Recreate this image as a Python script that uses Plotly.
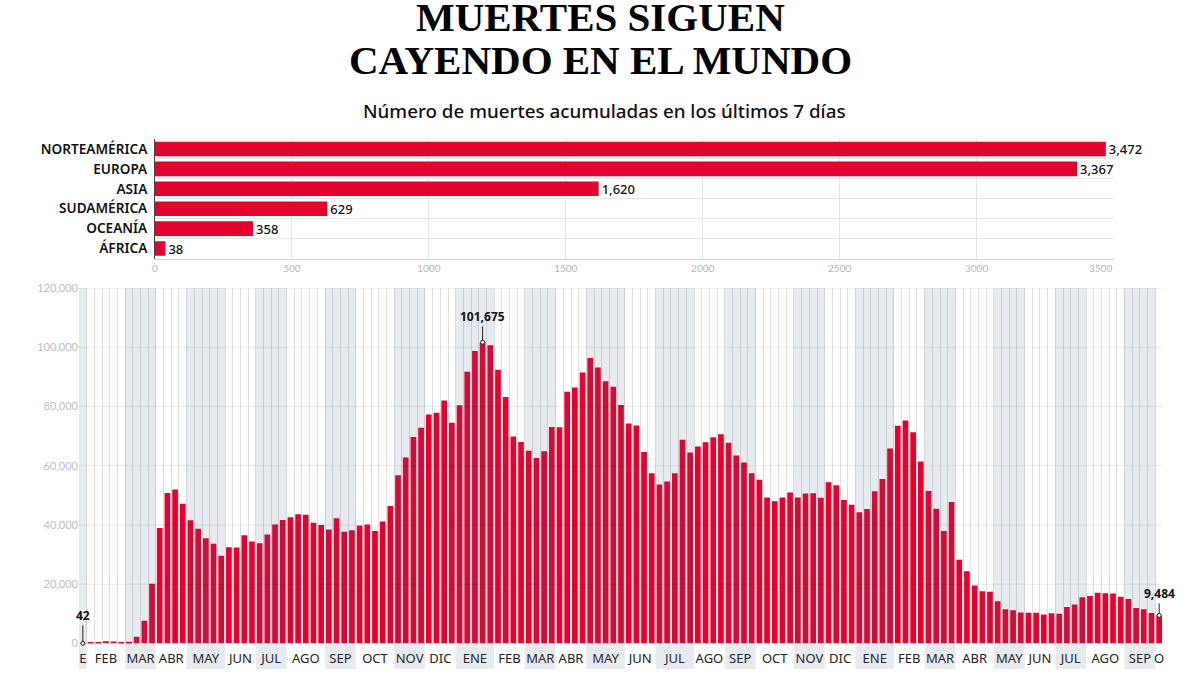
import plotly.graph_objects as go

TITLE_1 = "MUERTES SIGUEN"
TITLE_2 = "CAYENDO EN EL MUNDO"
SUBTITLE = "Número de muertes acumuladas en los últimos 7 días"

REGIONS = ["NORTEAMÉRICA", "EUROPA", "ASIA", "SUDAMÉRICA", "OCEANÍA", "ÁFRICA"]
REGION_DEATHS = [3472, 3367, 1620, 629, 358, 38]
TOP_TICKS = [0, 500, 1000, 1500, 2000, 2500, 3000, 3500]

WEEKLY_DEATHS = [
    42, 300, 500, 800, 700, 500, 600, 2250, 7650, 20200,
    39000, 50800, 52000, 47200, 41600, 38700, 35500, 33700, 29600, 32500,
    32400, 36500, 34400, 33800, 36800, 40200, 41700, 42600, 43600, 43500,
    40800, 40000, 38500, 42300, 37700, 38200, 39800, 40200, 38000, 41200,
    46400, 56800, 62800, 69700, 72800, 77300, 77900, 82000, 74500, 80400,
    91700, 98700, 101675, 100700, 92400, 83200, 69900, 68000, 65100, 62600,
    64900, 73100, 73000, 85000, 86400, 91500, 96400, 93200, 88500, 86700,
    80500, 74300, 73600, 64600, 57500, 53700, 54700, 57500, 68800, 64500,
    66500, 67900, 69600, 70600, 67800, 63500, 61100, 57500, 55300, 49300,
    48000, 49300, 51000, 49300, 50600, 50700, 49200, 54400, 53400, 48400,
    46800, 44300, 45400, 51400, 55500, 65800, 73500, 75300, 71300, 61400,
    51500, 45500, 38000, 47800, 28300, 24400, 19600, 17600, 17500, 14300,
    11600, 11200, 10500, 10400, 10400, 9800, 10200, 10000, 12300, 13200,
    15600, 16000, 17100, 17000, 16900, 15800, 15000, 12000, 11600, 10300,
    9484,
]
MONTHS = ["E", "FEB", "MAR", "ABR", "MAY", "JUN", "JUL", "AGO", "SEP", "OCT", "NOV", "DIC",
          "ENE", "FEB", "MAR", "ABR", "MAY", "JUN", "JUL", "AGO", "SEP", "OCT", "NOV", "DIC",
          "ENE", "FEB", "MAR", "ABR", "MAY", "JUN", "JUL", "AGO", "SEP", "O"]
WEEKS_IN_MONTH = [1, 5, 4, 4, 5, 4, 4, 5, 4, 5, 4, 4,
                  5, 4, 4, 4, 5, 4, 5, 4, 4, 5, 4, 4,
                  5, 4, 4, 5, 4, 4, 4, 5, 4, 1]
Y_TICKS = [0, 20000, 40000, 60000, 80000, 100000, 120000]
CALLOUT_WEEKS = [0, 52, 140]
CALLOUT_OFFSETS = [-28, -26, -22]

W, H = 1200, 675
def py(p):
    return 1 - p / H

SANS = "Noto Sans"
RED = "#e4032e"
fig = go.Figure()

# top chart
fig.add_trace(go.Bar(
    x=REGION_DEATHS, y=list(range(len(REGIONS))), orientation="h", xaxis="x", yaxis="y",
    marker=dict(color=RED, line=dict(width=0)), width=0.73,
    text=[f"{v:,}" for v in REGION_DEATHS], textposition="outside", cliponaxis=False,
    constraintext="none",
    textfont=dict(family=SANS, size=13, color="#111111", weight=500), showlegend=False,
))

# bottom chart
weeks = list(range(len(WEEKLY_DEATHS)))
fig.add_trace(go.Bar(
    x=weeks, y=WEEKLY_DEATHS, xaxis="x2", yaxis="y2", width=0.74,
    marker=dict(color=RED, line=dict(width=0)), showlegend=False,
))
fig.add_trace(go.Scatter(
    x=CALLOUT_WEEKS, y=[WEEKLY_DEATHS[i] for i in CALLOUT_WEEKS], xaxis="x2", yaxis="y2",
    mode="markers", cliponaxis=False,
    marker=dict(size=4, color="white", line=dict(color="#222222", width=1)), showlegend=False,
))

month_centers, shapes = [], []
start = -0.5
for i, n in enumerate(WEEKS_IN_MONTH):
    end = start + n
    month_centers.append((start + end) / 2)
    if i % 2 == 0:
        shapes.append(dict(type="rect", layer="above", xref="x2", yref="paper",
                           x0=start, x1=end, y0=py(669), y1=py(288),
                           fillcolor="rgba(60,90,120,0.125)", line=dict(width=0)))
    start = end
for t in Y_TICKS[1:]:
    shapes.append(dict(type="line", layer="above", xref="x2 domain", yref="y2", x0=0, x1=1, y0=t, y1=t,
                       line=dict(color="rgba(0,0,0,0.08)", width=1)))

annotations = [
    dict(text=TITLE_1, x=0.5, y=py(33), xref="paper", yref="paper", xanchor="center", yanchor="bottom",
         showarrow=False, yshift=-9, font=dict(family="Liberation Serif", size=41, color="black", weight=700)),
    dict(text=TITLE_2, x=0.5, y=py(76), xref="paper", yref="paper", xanchor="center", yanchor="bottom",
         showarrow=False, yshift=-9, font=dict(family="Liberation Serif", size=41, color="black", weight=700)),
    dict(text=SUBTITLE, x=604 / W, y=py(111), xref="paper", yref="paper", xanchor="center", yanchor="middle",
         showarrow=False, font=dict(family=SANS, size=18.8, color="#111111", weight=500)),
    dict(text=f"{TOP_TICKS[-1]}", x=TOP_TICKS[-1], y=py(268), xref="x", yref="paper", xanchor="right",
         yanchor="middle", showarrow=False, font=dict(family="Lato", size=10, color="#b5b5b5")),
]
for i, off in zip(CALLOUT_WEEKS, CALLOUT_OFFSETS):
    annotations.append(dict(
        text=f"<b>{WEEKLY_DEATHS[i]:,}</b>", x=i, y=WEEKLY_DEATHS[i], xref="x2", yref="y2",
        ax=0, ay=off, showarrow=True, arrowhead=0, arrowwidth=1, arrowcolor="#222222", standoff=2,
        font=dict(family=SANS, size=12, color="#111111"),
    ))

fig.update_layout(
    width=W, height=H, margin=dict(l=0, r=0, t=0, b=0, pad=0), autosize=False,
    paper_bgcolor="white", plot_bgcolor="white", bargap=0.26, barmode="overlay",
    shapes=shapes, annotations=annotations,
    xaxis=dict(domain=[155 / W, 1113.5 / W], range=[0, TOP_TICKS[-1]], anchor="y", automargin=False,
               tickvals=TOP_TICKS, ticktext=[str(t) for t in TOP_TICKS[:-1]] + [""],
               gridcolor="#e6e6e6", gridwidth=1, zeroline=False, ticks="",
               showline=True, linecolor="#d5d5d5", linewidth=1,
               tickfont=dict(family="Lato", size=10, color="#b5b5b5")),
    yaxis=dict(domain=[py(258.5), py(139)], range=[5.5, -0.5], anchor="x", automargin=False,
               tickvals=list(range(len(REGIONS))), ticktext=REGIONS, showgrid=False, zeroline=False,
               showline=True, linecolor="#444444", linewidth=1, ticks="", ticklabelstandoff=4,
               minor=dict(tick0=-0.5, dtick=1, showgrid=True, gridcolor="#e6e6e6", ticks=""),
               tickfont=dict(family=SANS, size=13.6, color="#111111", weight=600)),
    xaxis2=dict(domain=[79 / W, 1163 / W], range=[-0.5, len(WEEKLY_DEATHS) - 0.5], anchor="y2", automargin=False,
                tickvals=month_centers, ticktext=MONTHS, showgrid=False, zeroline=False, ticks="",
                ticklabelstandoff=5,
                minor=dict(tick0=-0.5, dtick=1, showgrid=True, gridcolor="#dedede", gridwidth=1, ticks=""),
                tickfont=dict(family=SANS, size=13, color="#222222")),
    yaxis2=dict(domain=[py(643.5), py(288)], range=[0, Y_TICKS[-1]], anchor="x2", automargin=False,
                tickvals=Y_TICKS, tickformat=",d", showgrid=False, zeroline=False, ticks="",
                tickfont=dict(family="Lato", size=11, color="#bdbdbd")),
)

fig.write_html("out.html", config={"displayModeBar": False},
               post_script="document.body.style.margin='0';")
